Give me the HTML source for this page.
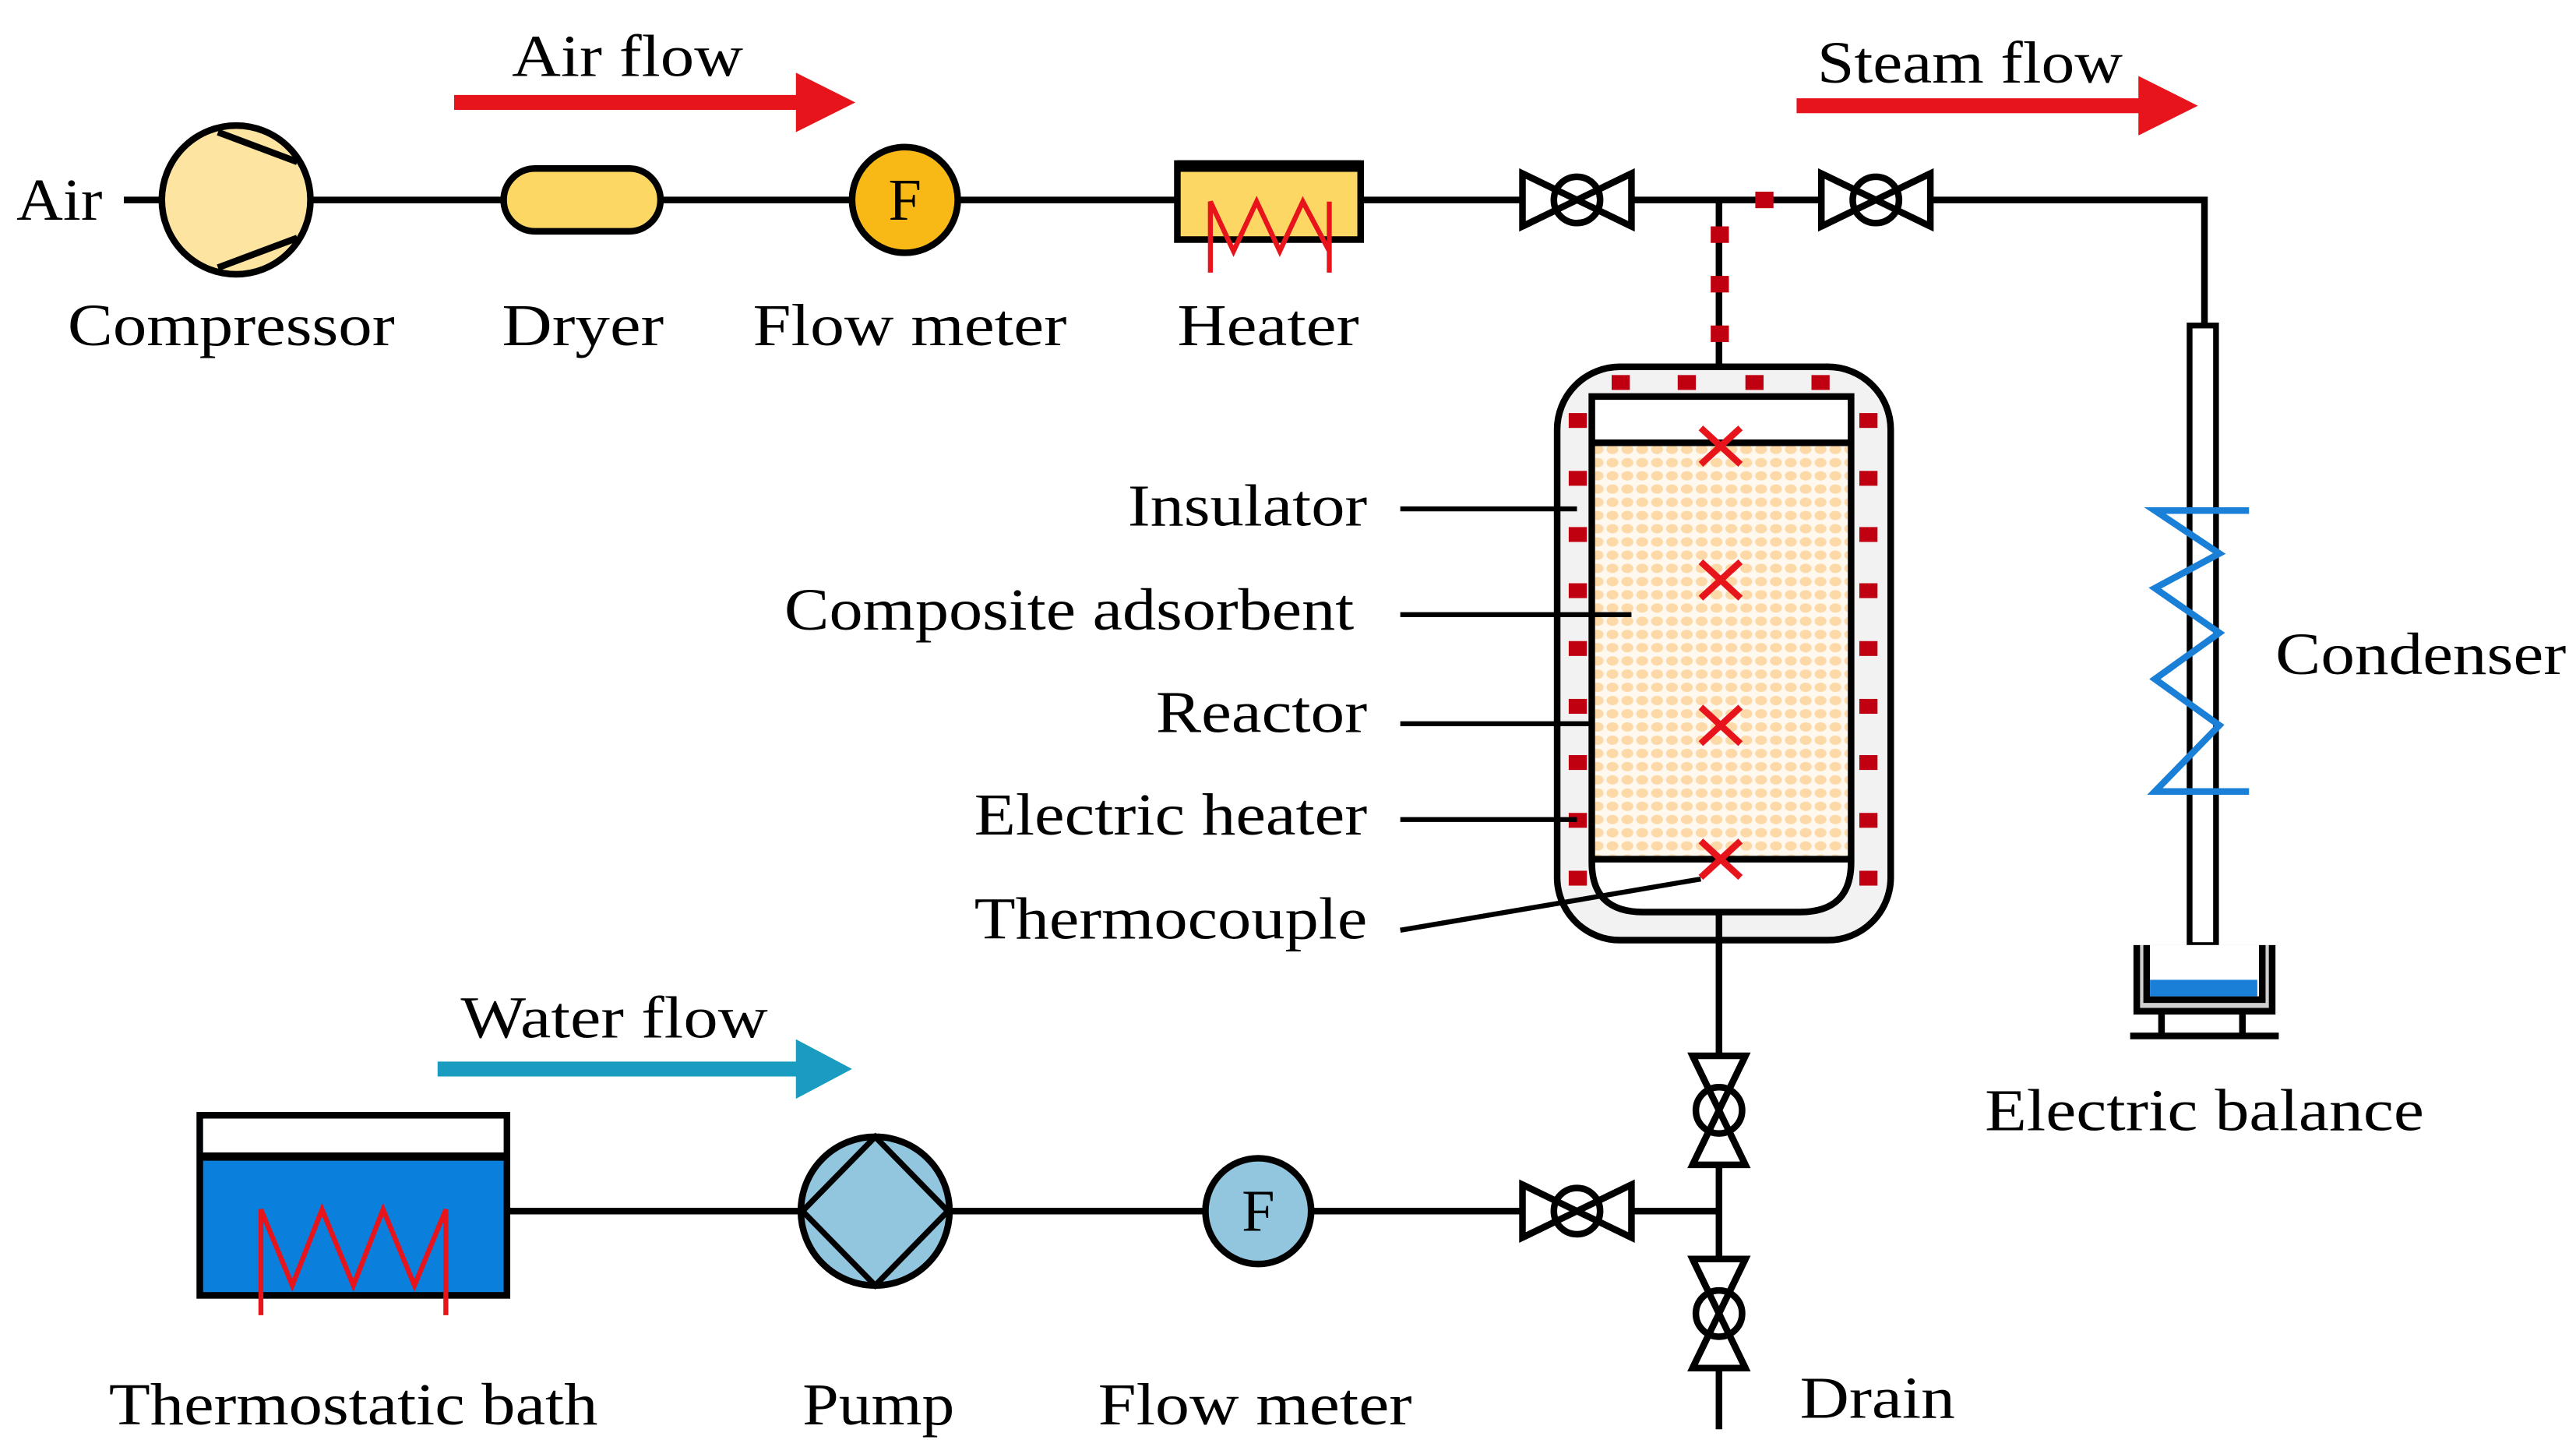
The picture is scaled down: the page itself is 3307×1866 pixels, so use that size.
<!DOCTYPE html>
<html><head><meta charset="utf-8"><style>html,body{margin:0;padding:0;background:#fff}svg{display:block}text{font-family:"Liberation Serif",serif;font-size:36px;fill:#000}</style></head>
<body>
<svg width="3307" height="1866" viewBox="0 0 1560 880" preserveAspectRatio="none" xmlns="http://www.w3.org/2000/svg">
<defs>
<pattern id="dots" x="963" y="268" width="9" height="8" patternUnits="userSpaceOnUse">
<rect width="9" height="8" fill="#fff8ee"/>
<ellipse cx="4.5" cy="4" rx="3.6" ry="2.8" fill="#fdd9a8"/>
</pattern>
<g id="valve" fill="none" stroke="#000" stroke-width="4">
<path d="M-33,-16 L33,16 L33,-16 L-33,16 Z" fill="#fff"/>
<circle r="14" fill="#fff"/>
<path d="M-33,-16 L33,16 M33,-16 L-33,16"/>
</g>
</defs>

<path d="M75,121 H1335 V197" fill="none" stroke="#000" stroke-width="4"/>
<text x="10" y="133" textLength="52" lengthAdjust="spacingAndGlyphs">Air</text>

<circle cx="143" cy="121" r="45" fill="#fde4a0" stroke="#000" stroke-width="4"/>
<path d="M132,80 L180,98 M132,162 L180,144" stroke="#000" stroke-width="4"/>

<rect x="305" y="102" width="95" height="38" rx="19" fill="#fdd764" stroke="#000" stroke-width="4"/>

<circle cx="548" cy="121" r="32" fill="#f8b816" stroke="#000" stroke-width="4"/>
<text x="548" y="133" text-anchor="middle" font-size="32">F</text>

<rect x="713" y="99" width="111" height="46" fill="#fdd764" stroke="#000" stroke-width="4"/>
<rect x="713" y="97" width="111" height="7" fill="#000"/>
<path d="M733,165 V122 L747,152 L761,122 L775,152 L789,122 L805,152 M805,122 V165" fill="none" stroke="#e8141c" stroke-width="3"/>

<use href="#valve" x="955" y="121"/>
<use href="#valve" x="1136" y="121"/>

<path d="M1041,121 V240" stroke="#000" stroke-width="4"/>
<g fill="#c00010">
<rect x="1063" y="116" width="11" height="10"/>
<rect x="1036" y="137" width="11" height="10"/>
<rect x="1036" y="167" width="11" height="10"/>
<rect x="1036" y="197" width="11" height="10"/>
</g>

<path d="M275,62 H485" stroke="#e8141c" stroke-width="9"/>
<path d="M482,44 L518,62 L482,80 Z" fill="#e8141c"/>
<text x="380" y="46" text-anchor="middle" textLength="140" lengthAdjust="spacingAndGlyphs">Air flow</text>
<path d="M1088,64 H1298" stroke="#e8141c" stroke-width="9"/>
<path d="M1295,46 L1331,64 L1295,82 Z" fill="#e8141c"/>
<text x="1193" y="50" text-anchor="middle" textLength="185" lengthAdjust="spacingAndGlyphs">Steam flow</text>

<text x="140" y="209" text-anchor="middle" textLength="198" lengthAdjust="spacingAndGlyphs">Compressor</text>
<text x="353" y="209" text-anchor="middle" textLength="98" lengthAdjust="spacingAndGlyphs">Dryer</text>
<text x="551" y="209" text-anchor="middle" textLength="190" lengthAdjust="spacingAndGlyphs">Flow meter</text>
<text x="768" y="209" text-anchor="middle" textLength="110" lengthAdjust="spacingAndGlyphs">Heater</text>

<rect x="943" y="222" width="202" height="347" rx="38" fill="#f2f2f2" stroke="#000" stroke-width="4"/>
<path d="M964,240 H1121 V522 Q1121,552 1090,552 H995 Q964,552 964,522 Z" fill="#fff" stroke="#000" stroke-width="4"/>
<rect x="966" y="269" width="153" height="250" fill="url(#dots)"/>
<path d="M964,268 H1121 M964,520 H1121" stroke="#000" stroke-width="4"/>
<path d="M1041,552 V865" stroke="#000" stroke-width="4"/>
<g fill="#c00010">
<rect x="950" y="250" width="11" height="9"/><rect x="950" y="285" width="11" height="9"/><rect x="950" y="319" width="11" height="9"/><rect x="950" y="353" width="11" height="9"/><rect x="950" y="388" width="11" height="9"/><rect x="950" y="423" width="11" height="9"/><rect x="950" y="457" width="11" height="9"/><rect x="950" y="492" width="11" height="9"/><rect x="950" y="527" width="11" height="9"/>
<rect x="1126" y="250" width="11" height="9"/><rect x="1126" y="285" width="11" height="9"/><rect x="1126" y="319" width="11" height="9"/><rect x="1126" y="353" width="11" height="9"/><rect x="1126" y="388" width="11" height="9"/><rect x="1126" y="423" width="11" height="9"/><rect x="1126" y="457" width="11" height="9"/><rect x="1126" y="492" width="11" height="9"/><rect x="1126" y="527" width="11" height="9"/>
<rect x="976" y="227" width="11" height="9"/><rect x="1016" y="227" width="11" height="9"/><rect x="1057" y="227" width="11" height="9"/><rect x="1097" y="227" width="11" height="9"/>
</g>
<g stroke="#e8141c" stroke-width="4">
<path d="M1030,259 L1054,281 M1054,259 L1030,281"/>
<path d="M1030,340 L1054,362 M1054,340 L1030,362"/>
<path d="M1030,428 L1054,450 M1054,428 L1030,450"/>
<path d="M1030,509 L1054,531 M1054,509 L1030,531"/>
</g>

<g stroke="#000" stroke-width="3">
<path d="M848,308 H955"/><path d="M848,372 H988"/><path d="M848,438 H963"/><path d="M848,496 H955"/><path d="M848,563 L1030,532"/>
</g>
<text x="828" y="318" text-anchor="end" textLength="145" lengthAdjust="spacingAndGlyphs">Insulator</text>
<text x="820" y="381" text-anchor="end" textLength="345" lengthAdjust="spacingAndGlyphs">Composite adsorbent</text>
<text x="828" y="443" text-anchor="end" textLength="128" lengthAdjust="spacingAndGlyphs">Reactor</text>
<text x="828" y="505" text-anchor="end" textLength="238" lengthAdjust="spacingAndGlyphs">Electric heater</text>
<text x="828" y="568" text-anchor="end" textLength="238" lengthAdjust="spacingAndGlyphs">Thermocouple</text>

<rect x="1326" y="197" width="16" height="375" fill="#fff" stroke="#000" stroke-width="3.5"/>
<path d="M1362,309 H1305 L1344,335 L1305,356 L1344,383 L1305,411 L1344,439 L1305,479 H1362" fill="none" stroke="#1a7fd6" stroke-width="4"/>
<text x="1378" y="408" textLength="176" lengthAdjust="spacingAndGlyphs">Condenser</text>
<path d="M1334,572 V590" stroke="#000" stroke-width="4"/>

<path d="M1294,572 V612 H1376 V572" fill="#cfcfcf" stroke="#000" stroke-width="4"/>
<rect x="1298" y="575" width="14" height="30" fill="#cfcfcf"/>
<rect x="1357" y="575" width="14" height="30" fill="#cfcfcf"/>
<path d="M1300,572 V605 H1370 V572" fill="#fff" stroke="#000" stroke-width="4"/>
<rect x="1302" y="593" width="65" height="10" fill="#1a7fd6"/>
<path d="M1309,612 V626 M1358,612 V626 M1290,627 H1380" stroke="#000" stroke-width="4"/>
<text x="1335" y="684" text-anchor="middle" textLength="266" lengthAdjust="spacingAndGlyphs">Electric balance</text>

<path d="M308,733 H1041" stroke="#000" stroke-width="4"/>
<path d="M265,647 H485" stroke="#1a9bc0" stroke-width="9"/>
<path d="M482,629 L516,647 L482,665 Z" fill="#1a9bc0"/>
<text x="372" y="628" text-anchor="middle" textLength="186" lengthAdjust="spacingAndGlyphs">Water flow</text>

<rect x="121" y="675" width="186" height="109" fill="#0a7fdc" stroke="#000" stroke-width="4"/>
<rect x="123" y="677" width="182" height="22" fill="#fff"/>
<path d="M121,700 H307" stroke="#000" stroke-width="5"/>
<path d="M158,796 V732 L177,778 L195,732 L214,778 L232,732 L251,778 L270,732 V796" fill="none" stroke="#e8141c" stroke-width="3"/>

<circle cx="530" cy="733" r="45" fill="#92c5de" stroke="#000" stroke-width="4"/>
<path d="M530,688 L574,733 L530,778 L486,733 Z" fill="none" stroke="#000" stroke-width="3.5"/>
<circle cx="762" cy="733" r="32" fill="#92c5de" stroke="#000" stroke-width="4"/>
<text x="762" y="745" text-anchor="middle" font-size="32">F</text>

<use href="#valve" x="955" y="733"/>
<use href="#valve" transform="translate(1041,672) rotate(90)"/>
<use href="#valve" transform="translate(1041,795) rotate(90)"/>

<text x="214" y="862" text-anchor="middle" textLength="296" lengthAdjust="spacingAndGlyphs">Thermostatic bath</text>
<text x="532" y="862" text-anchor="middle" textLength="92" lengthAdjust="spacingAndGlyphs">Pump</text>
<text x="760" y="862" text-anchor="middle" textLength="190" lengthAdjust="spacingAndGlyphs">Flow meter</text>
<text x="1090" y="858" textLength="94" lengthAdjust="spacingAndGlyphs">Drain</text>
</svg>
</body></html>
